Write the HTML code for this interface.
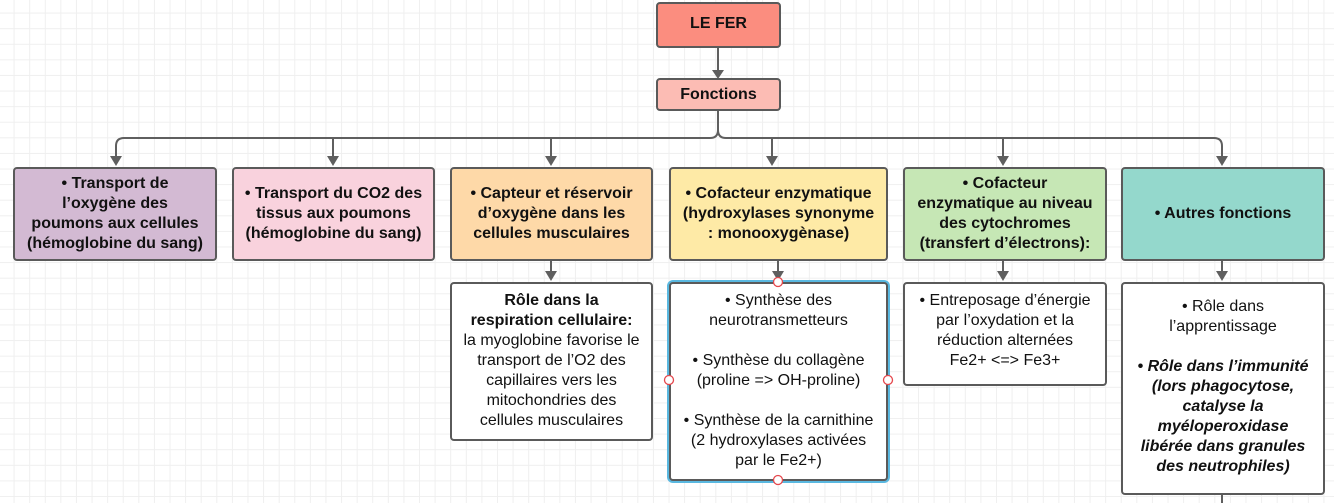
<!DOCTYPE html>
<html><head><meta charset="utf-8"><style>
body{margin:0;width:1334px;height:503px;overflow:hidden;position:relative;font-family:"Liberation Sans",sans-serif;
background-color:#fff;
background-image:linear-gradient(#efefef 1px,transparent 1px),linear-gradient(90deg,#efefef 1px,transparent 1px);
background-size:15.6px 15.6px;background-position:-2px -3px;}
.b{position:absolute;box-sizing:border-box;border:2px solid #5a5a5a;border-radius:4px;display:flex;align-items:center;justify-content:center;text-align:center;color:#111;font-size:16px;line-height:20px;padding:0 10px;}
.h{font-weight:bold;}
.s{background:#fff;align-items:flex-start;padding-top:7px;}
svg{position:absolute;left:0;top:0}
.c{fill:#fff;stroke:#e5484d;stroke-width:1.3}
</style></head><body>
<svg width="1334" height="503">
<g stroke="#5f5f5f" stroke-width="2" fill="none">
<path d="M718 47V72"/><path d="M718 110V130Q718 138 710 138H124Q116 138 116 146V158"/>
<path d="M718 130Q718 138 726 138H1214Q1222 138 1222 146V158"/>
<path d="M333 138V158M551 138V158M772 138V158M1003 138V158"/>
<path d="M551 260V274M778 260V274M1003 260V274M1222 260V274M1222 494V503"/>
</g>
<g fill="#5f5f5f">
<path d="M712 70h12l-6 9z"/>
<path d="M110 156h12l-6 10z"/><path d="M327 156h12l-6 10z"/><path d="M545 156h12l-6 10z"/><path d="M766 156h12l-6 10z"/><path d="M997 156h12l-6 10z"/><path d="M1216 156h12l-6 10z"/>
<path d="M545 271h12l-6 10z"/><path d="M772 271h12l-6 10z"/><path d="M997 271h12l-6 10z"/><path d="M1216 271h12l-6 10z"/>
</g>
</svg>
<div class="b h" style="left:656px;top:2px;width:125px;height:46px;background:#fb8d7f;align-items:flex-start;padding-top:10px">LE FER</div>
<div class="b h" style="left:656px;top:78px;width:125px;height:33px;background:#fcbcb4">Fonctions</div>
<div class="b h" style="left:13px;top:167px;width:204px;height:94px;background:#d3bad3;padding:0 6px">• Transport de<br>l’oxygène des<br>poumons aux cellules<br>(hémoglobine du sang)</div>
<div class="b h" style="left:232px;top:167px;width:203px;height:94px;background:#f9d2dd;padding:0 4px">• Transport du CO2 des<br>tissus aux poumons<br>(hémoglobine du sang)</div>
<div class="b h" style="left:450px;top:167px;width:203px;height:94px;background:#fed9a8;padding:0 4px">• Capteur et réservoir<br>d’oxygène dans les<br>cellules musculaires</div>
<div class="b h" style="left:669px;top:167px;width:219px;height:94px;background:#feeaa6;padding:0 4px">• Cofacteur enzymatique<br>(hydroxylases synonyme<br>: monooxygènase)</div>
<div class="b h" style="left:903px;top:167px;width:204px;height:94px;background:#c6e7b5;padding:0 4px">• Cofacteur<br>enzymatique au niveau<br>des cytochromes<br>(transfert d’électrons):</div>
<div class="b h" style="left:1121px;top:167px;width:204px;height:94px;background:#94d8cc">• Autres fonctions</div>
<div class="b s" style="left:450px;top:282px;width:203px;height:159px;padding:7px 4px 0"><div><b>Rôle dans la<br>respiration cellulaire:</b><br>la myoglobine favorise le<br>transport de l’O2 des<br>capillaires vers les<br>mitochondries des<br>cellules musculaires</div></div>
<div class="b s" style="left:669px;top:282px;width:219px;height:199px;box-shadow:0 0 0 2px #5ab8e0;padding:7px 4px 0"><div>• Synthèse des<br>neurotransmetteurs<br><br>• Synthèse du collagène<br>(proline =&gt; OH-proline)<br><br>• Synthèse de la carnithine<br>(2 hydroxylases activées<br>par le Fe2+)</div></div>
<div class="b s" style="left:903px;top:282px;width:204px;height:104px;padding:7px 4px 0"><div>• Entreposage d’énergie<br>par l’oxydation et la<br>réduction alternées<br>Fe2+ &lt;=&gt; Fe3+</div></div>
<div class="b s" style="left:1121px;top:282px;width:204px;height:213px;padding:13px 4px 0"><div>• Rôle dans<br>l’apprentissage<br><br><b><i>• Rôle dans l’immunité<br>(lors phagocytose,<br>catalyse la<br>myéloperoxidase<br>libérée dans granules<br>des neutrophiles)</i></b></div></div>
<svg width="1334" height="503">
<circle class="c" cx="778" cy="282" r="4.5"/><circle class="c" cx="778" cy="480" r="4.5"/><circle class="c" cx="669" cy="380" r="4.5"/><circle class="c" cx="888" cy="380" r="4.5"/>
</svg>
</body></html>
